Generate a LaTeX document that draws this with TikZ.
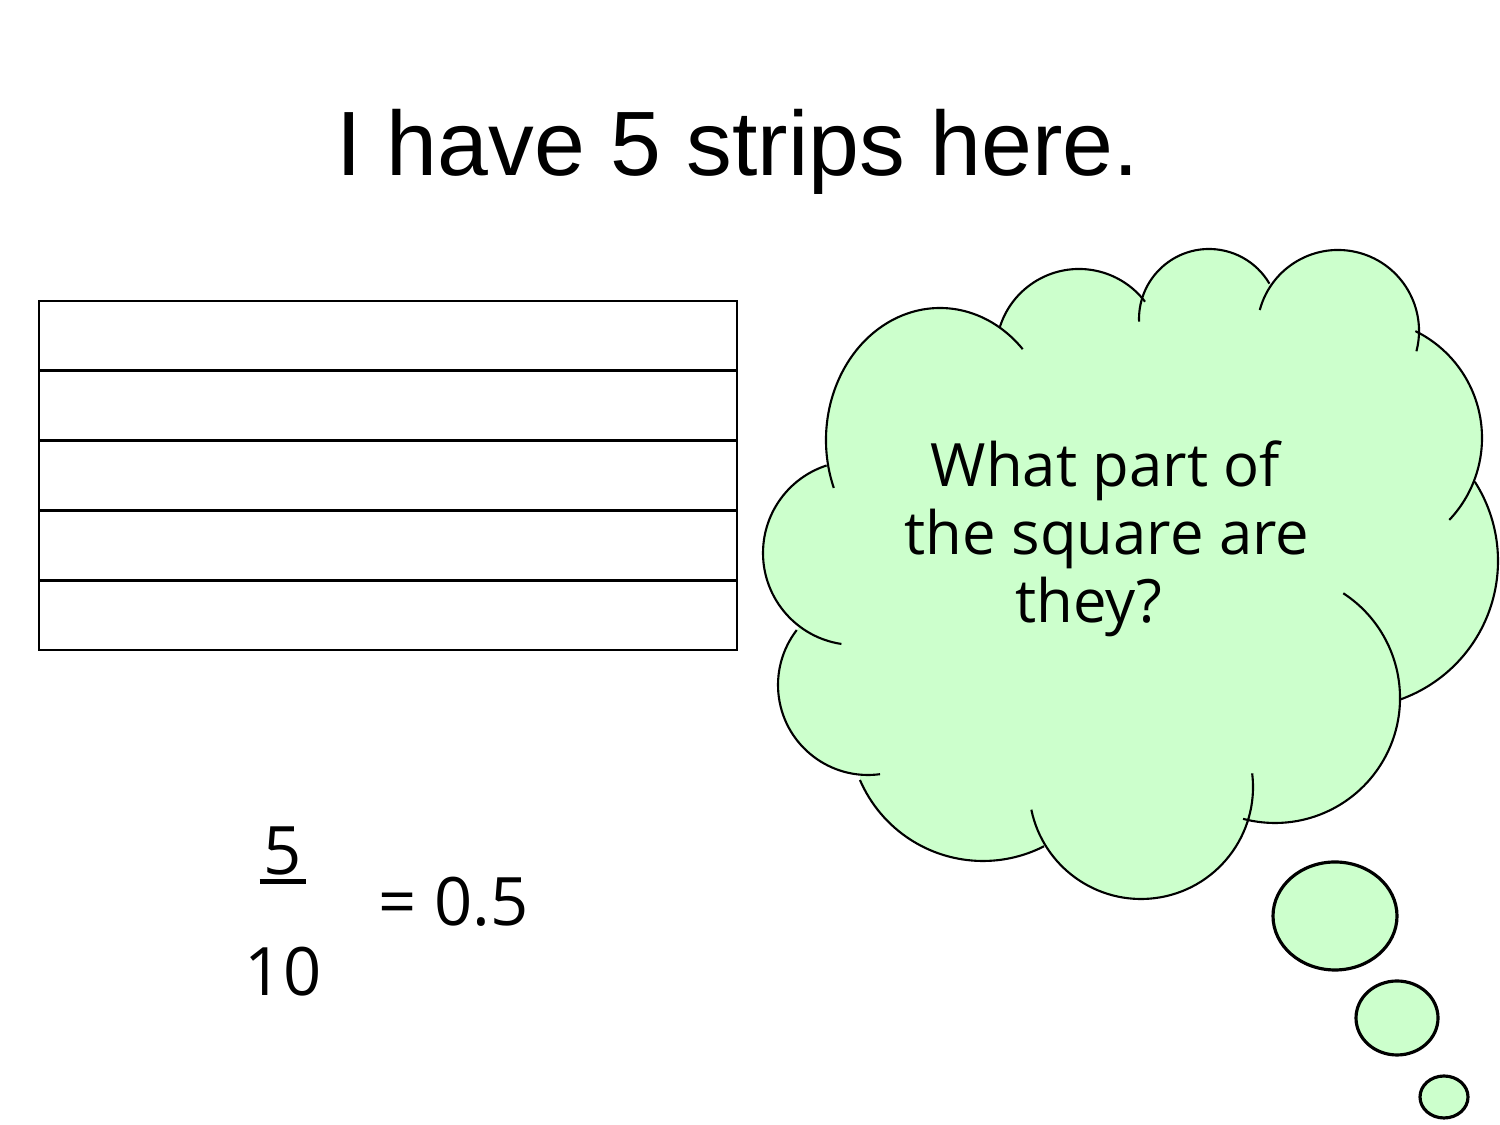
\documentclass[tikz,border=0pt]{standalone}
\usepackage{fontspec}
\setmainfont{Liberation Sans}
\newfontfamily\comicfont{Open Sans}
\usetikzlibrary{positioning}
\definecolor{cloudgreen}{RGB}{204,255,204}

\begin{document}
\begin{tikzpicture}[x=0.01cm, y=0.01cm,
    stripbox/.style={draw=black, line width=0.8pt},
    cloudline/.style={draw=black, line width=0.6pt},
    bubble/.style={draw=black, line width=0.9pt, fill=cloudgreen},
    comic/.style={font=\comicfont\fontsize{17}{20}\selectfont, inner sep=0pt, anchor=base},
    sums/.style={font=\comicfont\fontsize{19}{23}\selectfont, inner sep=0pt, anchor=base}]
    \useasboundingbox (0,0) rectangle (1500,1125);
    \fill[white] (0,0) rectangle (1500,1125);

    % Title
    \node[font=\fontsize{26}{31}\selectfont, inner sep=0pt, anchor=base] (title) at (737.5,949) {I have 5 strips here.};

    % Five strips
    \foreach \i in {0,...,4}
    \draw[stripbox] (39,{824-69.8*\i}) rectangle (737,{824-69.8*(\i+1)});

    % Cloud: fill between the joins of the bumps
    \fill[cloudgreen] ([shift={({114*cos(190.5)},{132*sin(190.5)})}]940,685)
    \foreach \cx/\cy/\rx/\ry/\a/\b in {940/685/114/132/190.5/58.5, 1079/773/83/83/162.6/37.3,
        1209/806/70/70/164.9/30.3, 1338/794/81/81/144.9/-0.5, 1363/687/119/119/63.9/-21.3,
        1351/564/147/147/32.6/-70.6, 1275/427/125/125/-0.9/-104.8, 1141/338/112/112/-9.1/-153.1,
        983/398/134/134/-62.9/-156.7, 868/440/90/90/-95.2/-217.6, 855/572/92/92/232.9/108}
    { -- ([shift={({\rx*cos(\a)},{\ry*sin(\a)})}]\cx,\cy) arc[start angle=\a, end angle=\b, x radius=\rx, y radius=\ry] }
    -- cycle;

    % Cloud: bump outlines with their short tails
    \foreach \cx/\cy/\rx/\ry/\a/\b in {940/685/114/132/201.3/43.5, 1079/773/83/83/162.6/37.3,
        1209/806/70/70/182.2/30.3, 1338/794/81/81/165/-14.5, 1363/687/119/119/63.9/-43.5,
        1351/564/147/147/32.6/-70.6, 1275/427/125/125/56.9/-104.8, 1141/338/112/112/7/-168.3,
        983/398/134/134/-62.9/-156.7, 868/440/90/90/-82.3/-217.6, 855/572/92/92/261.5/108}
    \draw[cloudline] ([shift={({\rx*cos(\a)},{\ry*sin(\a)})}]\cx,\cy) arc[start angle=\a, end angle=\b, x radius=\rx, y radius=\ry];

    % Thought bubbles
    \draw[bubble] (1335,209) ellipse [x radius=62, y radius=54];
    \draw[bubble] (1397,107) ellipse [x radius=41, y radius=37];
    \draw[bubble] (1444,28) ellipse [x radius=24, y radius=21];

    % Question
    \node[comic] (line1) at (1105.5,638) {What part of};
    \node[comic] (line2) at (1107,570) {the square are};
    \node[comic] (line3) at (1089,502) {they?};

    % Fraction
    \node[sums] (five) at (283,250) {5};
    \draw[line width=1.4pt] ([xshift=-1pt, yshift=-1.9pt]five.base west) -- ([xshift=1pt, yshift=-1.9pt]five.base east);
    \node[sums] (ten) at (283,129) {10};
    \node[sums] (equals) at (453.5,199) {= 0.5};
\end{tikzpicture}
\end{document}
